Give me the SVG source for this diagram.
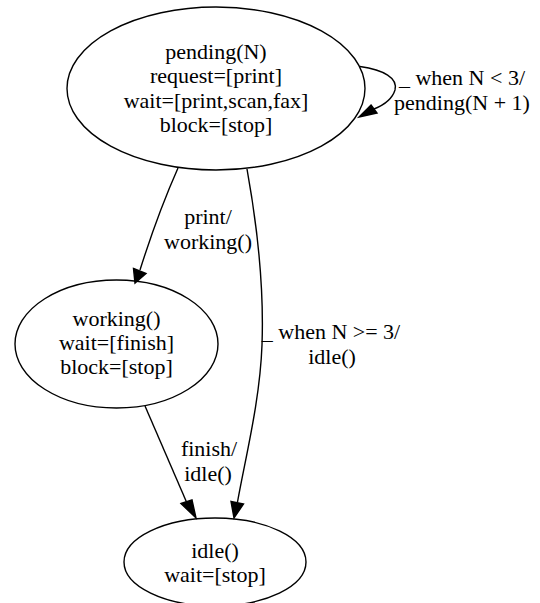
<svg xmlns="http://www.w3.org/2000/svg" width="540" height="603" viewBox="0 0 540 603">
<style>
.node ellipse{fill:none;stroke:#000;stroke-width:1.4}
.edge path{fill:none;stroke:#000;stroke-width:1.4}
.edge polygon{fill:#000;stroke:#000;stroke-width:1.4}
text{font-family:"Liberation Serif","Times New Roman",serif;font-size:22px;fill:#000;text-anchor:middle}
</style>
<rect width="540" height="603" fill="#fff"/>
<g id="pending" class="node">
<ellipse cx="216" cy="88.5" rx="149" ry="81.5"/>
<text x="216" y="59">pending(N)</text>
<text x="216" y="83.3">request=[print]</text>
<text x="216" y="107.6">wait=[print,scan,fax]</text>
<text x="216" y="131.9">block=[stop]</text>
</g>
<g id="working" class="node">
<ellipse cx="116.5" cy="344" rx="101.5" ry="64"/>
<text x="116.5" y="326">working()</text>
<text x="116.5" y="350.2">wait=[finish]</text>
<text x="116.5" y="374.4">block=[stop]</text>
</g>
<g id="idle" class="node">
<ellipse cx="215" cy="562" rx="91" ry="44"/>
<text x="215" y="557.5">idle()</text>
<text x="215" y="581.7">wait=[stop]</text>
</g>
<g id="connectors">
<g class="edge" id="pending-pending">
<path d="M360,66.5 C384,70 398,78 395,90 C392,100 384,105 374,109"/>
<polygon points="371,105 377,113 359,117"/>
<text x="462" y="85">_ when N &lt; 3/</text>
<text x="462" y="109.5">pending(N + 1)</text>
</g>
<g class="edge" id="pending-working">
<path d="M178,168 C166,195 152,232 140,270"/>
<polygon points="133.5,268.5 146,273.5 135,283"/>
<text x="208" y="224">print/</text>
<text x="208" y="248.5">working()</text>
</g>
<g class="edge" id="pending-idle">
<path d="M247,169 C258,230 264,290 262,345 C260,400 246,455 237.5,502"/>
<polygon points="231,501.5 243.5,504 234,518"/>
<text x="331" y="339">_ when N &gt;= 3/</text>
<text x="332" y="363.5">idle()</text>
</g>
<g class="edge" id="working-idle">
<path d="M145,406 L186.5,502"/>
<polygon points="181,503.5 192,500 196,518"/>
<text x="209" y="456">finish/</text>
<text x="208" y="480.5">idle()</text>
</g>
</g>
</svg>
